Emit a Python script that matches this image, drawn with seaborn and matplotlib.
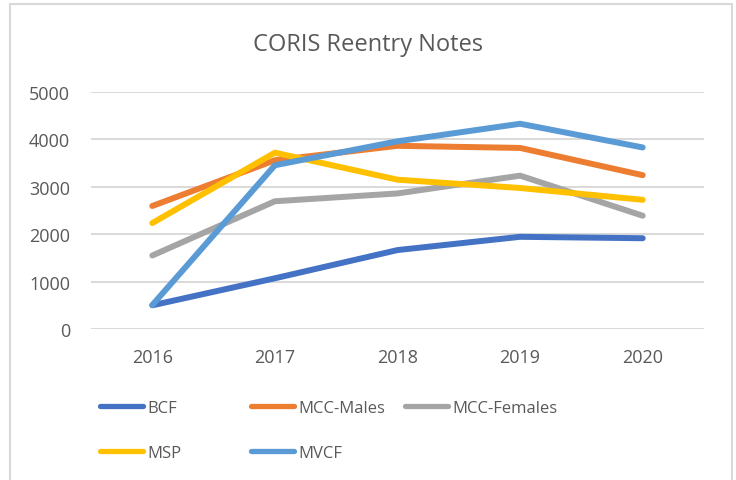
import pandas as pd
import matplotlib.pyplot as plt
import seaborn as sns
from matplotlib.patches import Rectangle

# Data
years = ['2016', '2017', '2018', '2019', '2020']
bcf = [500, 1070, 1665, 1945, 1915]
mcc_males = [2595, 3560, 3865, 3820, 3245]
mcc_females = [1550, 2695, 2860, 3235, 2390]
msp = [2235, 3720, 3150, 2975, 2725]
mvcf = [505, 3455, 3960, 4330, 3830]

series_names = ['BCF', 'MCC-Males', 'MCC-Females', 'MSP', 'MVCF']
colors = ['#4472C4', '#ED7D31', '#A5A5A5', '#FFC000', '#5B9BD5']

rows = []
for name, vals in zip(series_names, [bcf, mcc_males, mcc_females, msp, mvcf]):
    for y, v in zip(years, vals):
        rows.append({'Year': y, 'Notes': v, 'Series': name})
df = pd.DataFrame(rows)

sns.set_theme(style='white')
plt.rcParams['font.family'] = ['Open Sans', 'DejaVu Sans']
text_color = '#595959'

fig = plt.figure(figsize=(7.36, 4.81), dpi=100)
ax = fig.add_axes([91 / 736, 1 - 330 / 481, (704 - 91) / 736, (330 - 93) / 481])

sns.lineplot(data=df, x='Year', y='Notes', hue='Series', hue_order=series_names,
             palette=colors, linewidth=4.3, ax=ax, legend=False, sort=False)
for line in ax.lines:
    line.set_solid_capstyle('round')
    line.set_solid_joinstyle('round')

ax.set_xlim(-0.5, 4.5)
ax.set_ylim(0, 5000)
ax.set_yticks([0, 1000, 2000, 3000, 4000, 5000])
ax.yaxis.grid(True, color='#D9D9D9', linewidth=1.4)
ax.set_axisbelow(True)
for s in ax.spines.values():
    s.set_visible(False)
ax.set_xlabel('')
ax.set_ylabel('')
ax.tick_params(axis='y', length=0, pad=15, labelsize=13, labelcolor=text_color)
ax.tick_params(axis='x', length=0, pad=14, labelsize=13, labelcolor=text_color)

fig.text(0.5, 1 - 45 / 481, 'CORIS Reentry Notes', ha='center', va='center',
         fontsize=17, color=text_color)

# chart border
fig.add_artist(Rectangle((10 / 736, -0.05), (732 - 10) / 736, 1.05 - 5 / 481,
                         transform=fig.transFigure, fill=False,
                         edgecolor='#D9D9D9', linewidth=1.5))

# legend: three equal-width columns like Excel
handles = {n: plt.Line2D([], [], color=c, linewidth=3.8, solid_capstyle='round')
           for n, c in zip(series_names, colors)}
cols = [['BCF', 'MSP'], ['MCC-Males', 'MVCF'], ['MCC-Females']]
col_x = [100, 251, 405]
for names, x in zip(cols, col_x):
    leg = fig.legend([handles[n] for n in names], names, loc='upper left',
                     bbox_to_anchor=(x / 736, 1 - 401 / 481), frameon=False,
                     fontsize=12, handlelength=2.6, handletextpad=0.25,
                     labelspacing=1.75, borderpad=0, borderaxespad=0,
                     labelcolor=text_color)

fig.savefig('out.png', dpi=100)
